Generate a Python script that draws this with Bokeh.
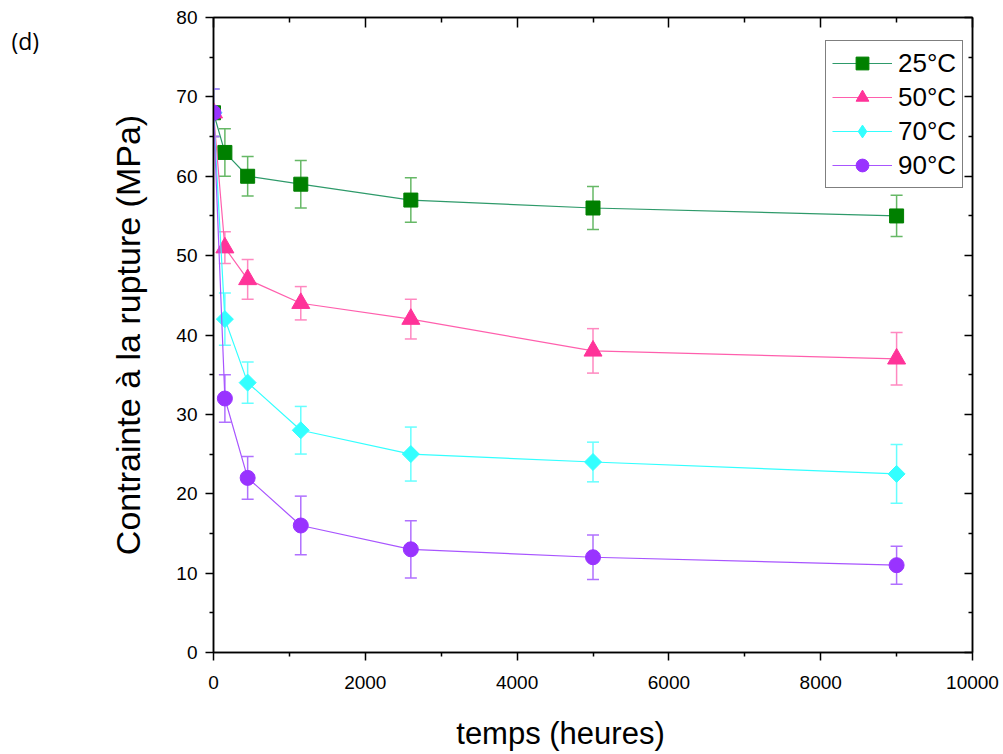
import math
from bokeh.plotting import figure
from bokeh.models import (ColumnDataSource, Whisker, TeeHead, LinearAxis, Range1d,
                          Legend, LegendItem, Label, FixedTicker)
from bokeh.embed import file_html
from bokeh.resources import INLINE

# ---- data ----
hours = [0, 150, 450, 1150, 2600, 5000, 9000]

s25 = [68, 63, 60, 59, 57, 56, 55]
e25 = [3.0, 3.0, 2.5, 3.0, 2.8, 2.7, 2.6]

s50 = [68, 51, 47, 44, 42, 38, 37]
e50 = [3.0, 2.0, 2.5, 2.1, 2.5, 2.8, 3.3]

s70 = [68, 42, 34, 28, 25, 24, 22.5]
e70 = [3.0, 3.3, 2.6, 3.0, 3.4, 2.5, 3.7]

s90 = [68, 32, 22, 16, 13, 12, 11]
e90 = [3.0, 3.0, 2.7, 3.7, 3.6, 2.8, 2.4]

labels = ["25°C", "50°C", "70°C", "90°C"]
x_ticks = [0, 2000, 4000, 6000, 8000, 10000]
x_minor = [1000, 3000, 5000, 7000, 9000]
y_ticks = [0, 10, 20, 30, 40, 50, 60, 70, 80]
y_minor = [5, 15, 25, 35, 45, 55, 65, 75]
x_title = "temps (heures)"
y_title = "Contrainte à la rupture (MPa)"
panel_tag = "(d)"

FONT = "Liberation Sans"

p = figure(width=1003, height=754, output_backend="svg", toolbar_location=None,
           x_range=Range1d(0, 10000), y_range=Range1d(0, 80),
           min_border_left=213, min_border_right=31, min_border_top=17, min_border_bottom=102)
p.grid.visible = False
p.outline_line_color = "black"
p.outline_line_width = 1.5

for ax in (p.xaxis[0], p.yaxis[0]):
    ax.axis_line_width = 1.5
    ax.major_tick_line_width = 1.5
    ax.minor_tick_line_width = 1.5
    ax.major_tick_out = 8
    ax.major_tick_in = 0
    ax.minor_tick_out = 4
    ax.minor_tick_in = 0
    ax.major_label_text_font = FONT
    ax.major_label_text_font_size = "19px"
    ax.major_label_text_color = "black"
    ax.axis_label_text_font = FONT
    ax.axis_label_text_font_style = "normal"
    ax.axis_label_text_color = "black"

p.xaxis[0].ticker = FixedTicker(ticks=x_ticks, minor_ticks=x_minor)
p.yaxis[0].ticker = FixedTicker(ticks=y_ticks, minor_ticks=y_minor)
p.xaxis[0].major_label_standoff = 15
p.yaxis[0].axis_label = y_title
p.yaxis[0].axis_label_text_font_size = "34px"
p.yaxis[0].axis_label_standoff = 26
p.yaxis[0].major_label_standoff = 8

# mirror axes with inward ticks
right = LinearAxis(ticker=FixedTicker(ticks=y_ticks, minor_ticks=y_minor),
                   major_label_text_font_size="0px", major_tick_in=8, major_tick_out=0,
                   minor_tick_in=4, minor_tick_out=0, axis_line_width=1.5,
                   major_tick_line_width=1.5, minor_tick_line_width=1.5)
right.major_label_text_alpha = 0
p.add_layout(right, "right")
top = LinearAxis(ticker=FixedTicker(ticks=x_ticks, minor_ticks=x_minor),
                 major_label_text_font_size="0px", major_tick_in=10, major_tick_out=0,
                 minor_tick_in=5, minor_tick_out=0, axis_line_width=1.5,
                 major_tick_line_width=1.5, minor_tick_line_width=1.5)
top.major_label_text_alpha = 0
p.add_layout(top, "above")

series = [
    (s25, e25, "#008000", "#2e9a6a", "#66b866", "square", 14, 0, "square"),
    (s50, e50, "#ff3399", "#ff5fad", "#ff88c0", "triangle", 18, 0, "triangle"),
    (s70, e70, "#33ffff", "#33ffff", "#66ffff", "square", 12, math.pi / 4, "diamond"),
    (s90, e90, "#9933ff", "#a855ff", "#b070ff", "circle", 15, 0, "circle"),
]

nan = float("nan")
items = []
for (vals, errs, mcol, lcol, ecol, marker, size, ang, lmark), lab in zip(series, labels):
    src = ColumnDataSource(dict(x=hours, y=vals,
                                lo=[v - e for v, e in zip(vals, errs)],
                                hi=[v + e for v, e in zip(vals, errs)]))
    w = Whisker(source=src, base="x", lower="lo", upper="hi", dimension="height",
                line_color=ecol, line_width=1.5,
                upper_head=TeeHead(size=12, line_color=ecol, line_width=1.5),
                lower_head=TeeHead(size=12, line_color=ecol, line_width=1.5))
    p.add_layout(w)
    lr = p.line("x", "y", source=src, line_color=lcol, line_width=1.2)
    sr = p.scatter("x", "y", source=src, marker=marker, size=size, angle=ang,
                   fill_color=mcol, line_color=mcol)
    if lmark != marker:
        # legend-only marker (no data drawn)
        sr = p.scatter(x=[nan], y=[nan], marker=lmark, size=size,
                       fill_color=mcol, line_color=mcol)
    items.append(LegendItem(label=lab, renderers=[lr, sr]))

legend = Legend(items=items, location=(612, 464),
                label_text_font=FONT, label_text_font_size="26px",
                label_text_color="black",
                glyph_width=60, glyph_height=32, spacing=2,
                padding=6, margin=0, label_standoff=6,
                border_line_color="black", border_line_width=1.2,
                background_fill_alpha=1)
p.add_layout(legend)

p.add_layout(Label(x=11, y=56, x_units="canvas", y_units="canvas", text=panel_tag,
                   text_font="Open Sans", text_font_size="23px", text_color="black"), "left")
p.add_layout(Label(x=560, y=733, x_units="canvas", y_units="canvas", text=x_title,
                   text_align="center", text_baseline="middle",
                   text_font=FONT, text_font_size="31px", text_color="black"), "below")

open("out.html", "w").write(file_html(p, INLINE))
